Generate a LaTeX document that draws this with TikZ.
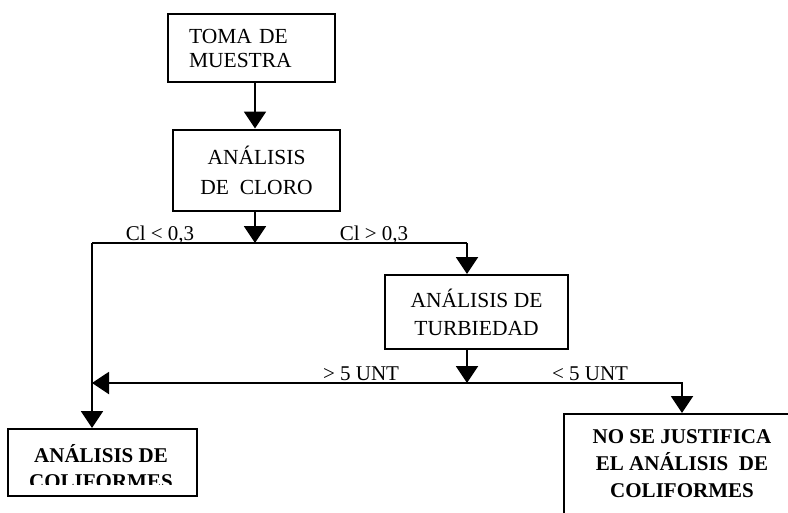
\documentclass[tikz,border=0pt]{standalone}
\usepackage{fontspec}
\setmainfont{Liberation Serif}
\usepackage{tikz}
\usetikzlibrary{arrows.meta}

\begin{document}
\begin{tikzpicture}[x=1pt,y=-1pt,
    caja/.style={draw,line width=2pt,align=center,font=\fontsize{21.5}{28}\selectfont},
    flecha/.style={line width=2pt,-{Triangle[length=17pt,width=22pt]}},
    linea/.style={line width=2pt},
    etiq/.style={anchor=base,font=\fontsize{21}{24}\selectfont,inner sep=0pt}]
    \useasboundingbox (0,0) rectangle (788,512);
    % Boxes
    \node[caja,minimum width=167pt,minimum height=68pt,text width=125pt,align=left,
          font=\fontsize{21.5}{24}\selectfont] (toma) at (251.5,48) {TOMA DE\\MUESTRA};
    \node[caja,minimum width=167pt,minimum height=81pt,
          font=\fontsize{21.5}{30}\selectfont] (cloro) at (256.5,170) {ANÁLISIS\\DE\ \ CLORO};
    \node[caja,minimum width=183pt,minimum height=74pt] (turbiedad) at (476.5,312) {ANÁLISIS DE\\TURBIEDAD};
    \node[caja,minimum width=189pt,minimum height=67pt] (colif) at (102.5,462.5) {};
    \begin{scope}
      \clip (8,429) rectangle (197,484);
      \node[align=center,font=\fontsize{21}{26}\selectfont\bfseries] (coliftxt) at (101,467) {ANÁLISIS DE\\COLIFORMES};
    \end{scope}
    \node[caja,minimum width=236pt,minimum height=100pt,font=\fontsize{21}{27}\selectfont\bfseries]
          (nojust) at (682,464) {NO SE JUSTIFICA\\EL ANÁLISIS\ \ DE\\COLIFORMES};
    % Branch points
    \coordinate (split1) at (255,243);
    \coordinate (izq1) at (92,243);
    \coordinate (der1) at (467,243);
    \coordinate (split2) at (467,383);
    \coordinate (izq2) at (92,383);
    \coordinate (der2) at (682,383);
    % Connectors
    \draw[flecha] (split1 |- toma.south) -- (split1 |- cloro.north);
    \draw[flecha] (split1 |- cloro.south) -- (split1);
    \draw[linea] (izq1) -- (der1);
    \draw[flecha] (der1) -- (der1 |- turbiedad.north);
    \draw[flecha] (izq1) -- (izq1 |- colif.north);
    \draw[flecha] (split2 |- turbiedad.south) -- (split2);
    \draw[flecha] (split2) -- (izq2);
    \draw[flecha] (split2) -- (der2) -- (der2 |- nojust.north);
    % Labels
    \node[etiq] (cmenor) at (160,240) {Cl < 0,3};
    \node[etiq] (cmayor) at (374,240) {Cl > 0,3};
    \node[etiq] (umayor) at (361,380) {> 5 UNT};
    \node[etiq] (umenor) at (590,380) {< 5 UNT};
\end{tikzpicture}
\end{document}
